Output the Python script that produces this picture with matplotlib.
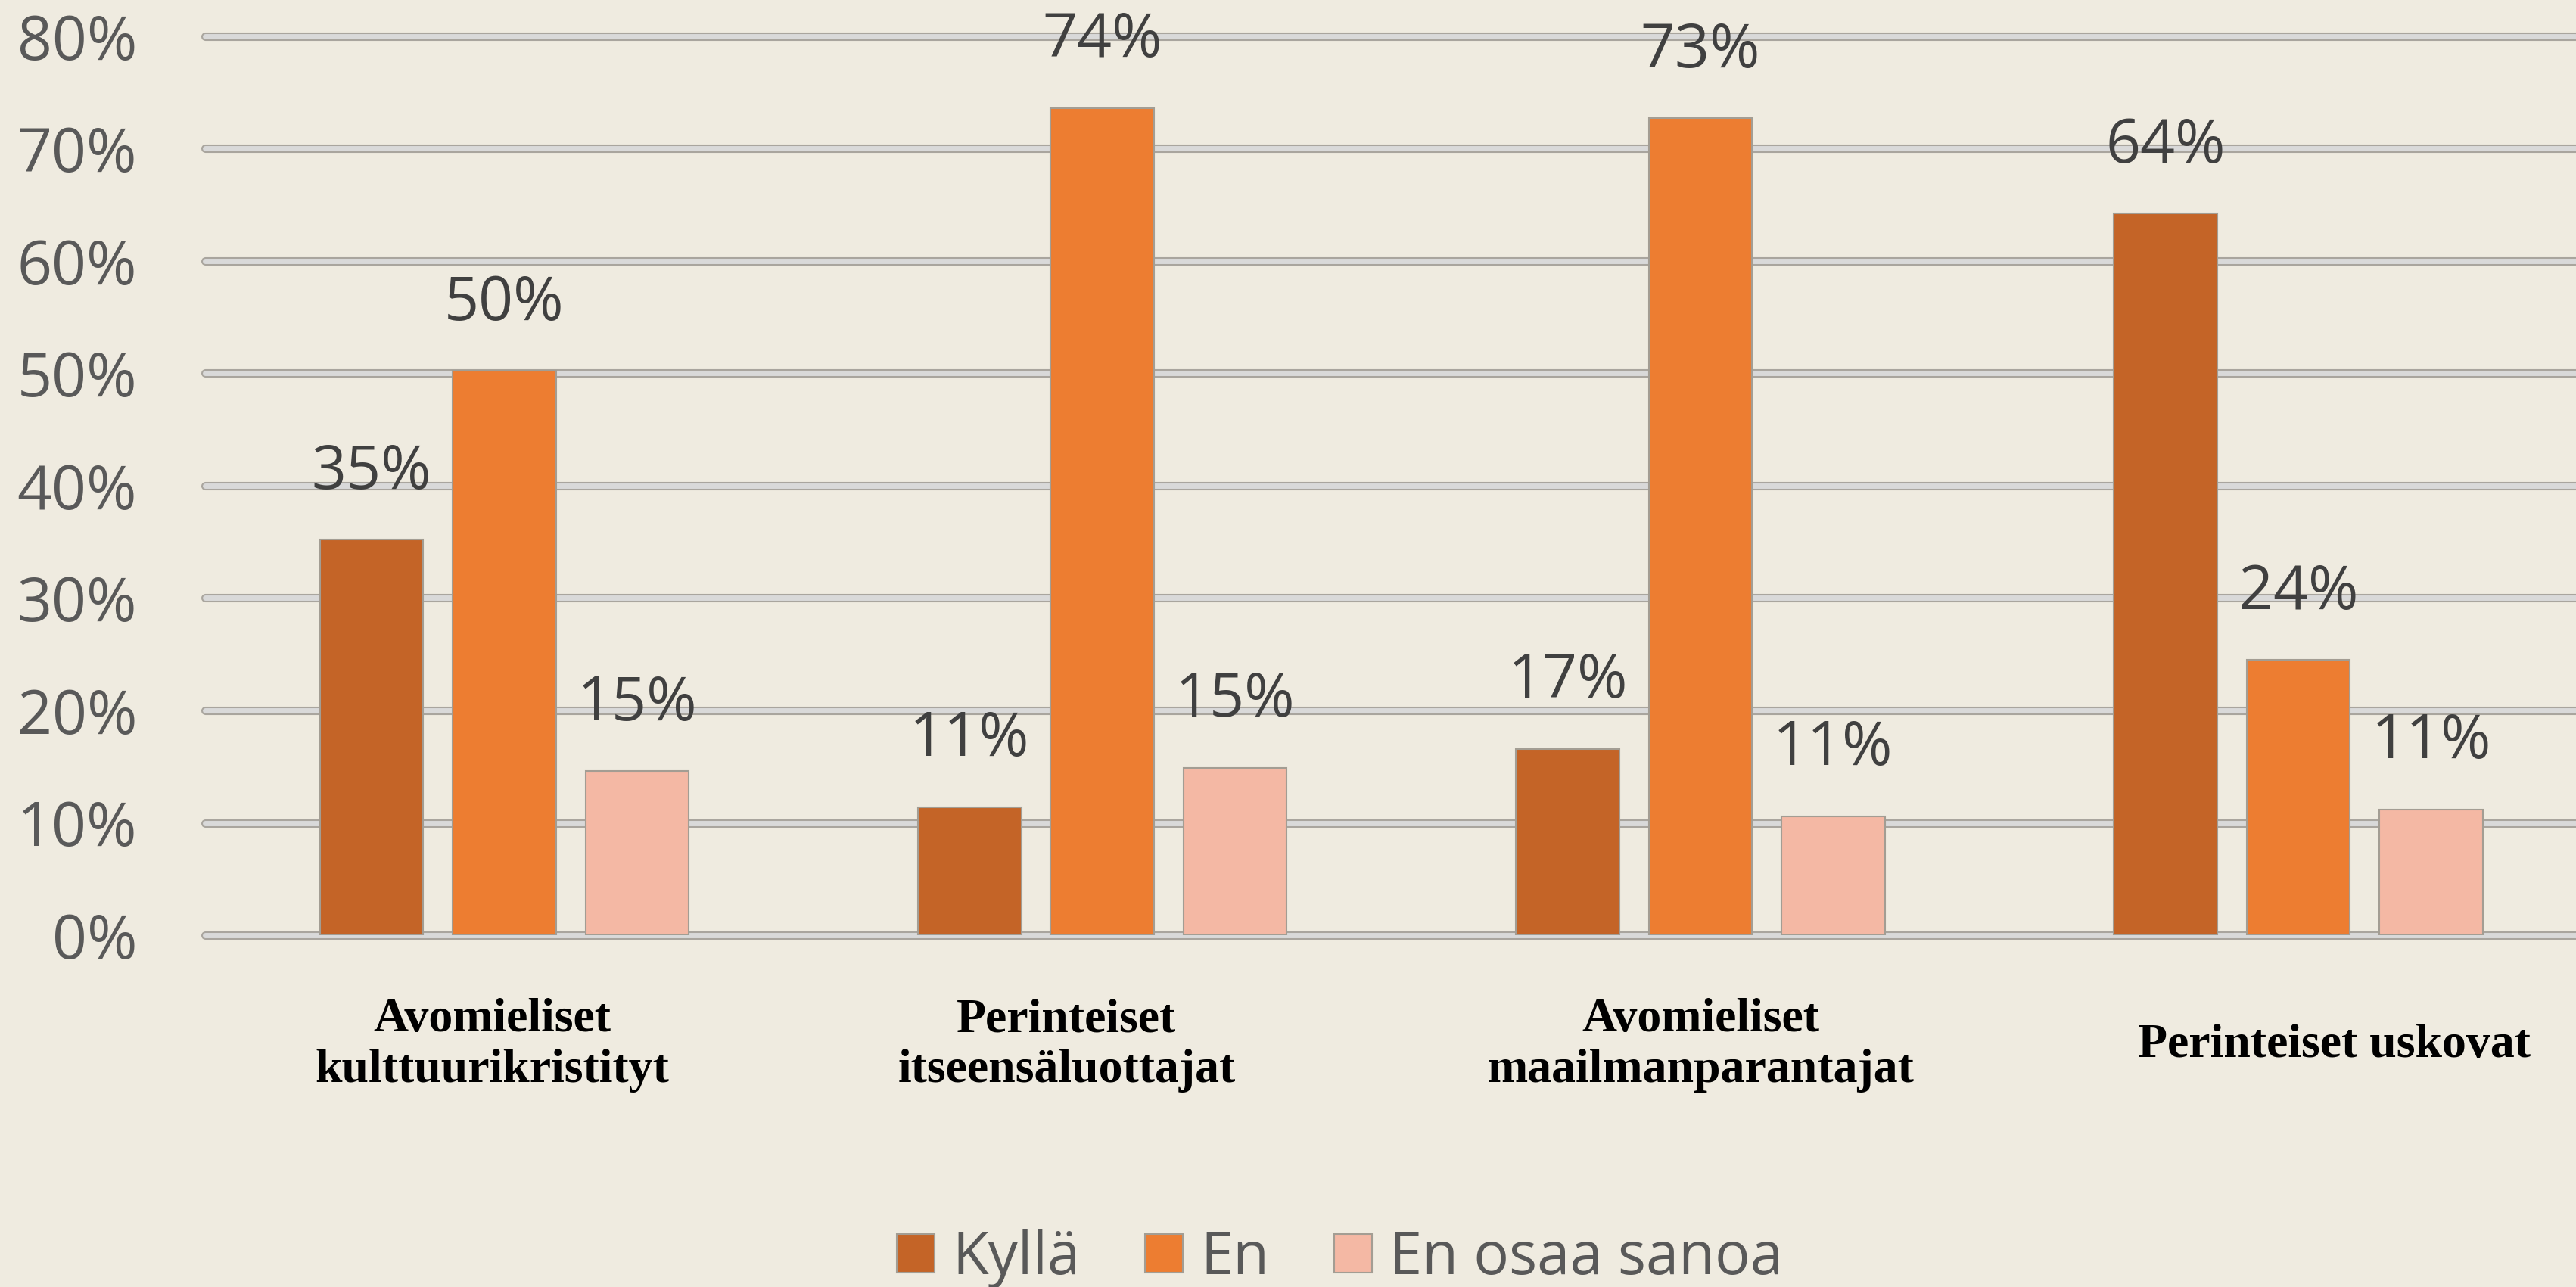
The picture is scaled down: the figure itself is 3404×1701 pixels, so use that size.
import numpy as np
import matplotlib
matplotlib.use("Agg")
import matplotlib.pyplot as plt
import matplotlib.patheffects as pe
from matplotlib.patches import Patch
from matplotlib.transforms import blended_transform_factory

# data
categories = ["Avomieliset\nkulttuurikristityt", "Perinteiset\nitseensäluottajat",
              "Avomieliset\nmaailmanparantajat", "Perinteiset uskovat"]
series_names = ["Kyllä", "En", "En osaa sanoa"]
kylla = [0.352, 0.114, 0.166, 0.642]
en = [0.502, 0.736, 0.727, 0.245]
eos = [0.146, 0.149, 0.106, 0.112]
y_ticks = [0.0, 0.1, 0.2, 0.3, 0.4, 0.5, 0.6, 0.7, 0.8]

BG = "#efebe0"
COLORS = ["#c46427", "#ed7d31", "#f4b8a4"]
SANS = ["Open Sans", "DejaVu Sans"]

fig = plt.figure(figsize=(34.05, 17.01), dpi=100, facecolor=BG)
ax = fig.add_axes([0.0797, 0.2733, 0.9283, 0.6986])
ax.set_facecolor(BG)

x = np.arange(len(categories))
offsets = [-0.222, 0.0, 0.222]
width = 0.173

# embossed-looking gridlines
for t in y_ticks:
    ax.axhline(t, color="#d9d9d9", lw=5.0, zorder=1, clip_on=False,
               solid_capstyle="round",
               path_effects=[pe.Stroke(linewidth=8.0, foreground="#a9a59e"), pe.Normal()])

for vals, off, col in zip([kylla, en, eos], offsets, COLORS):
    bars = ax.bar(x + off, vals, width, color=col, edgecolor="#a39d93", linewidth=1.5, zorder=3)
    for b, v in zip(bars, vals):
        ax.annotate(f"{round(v * 100)}%", (b.get_x() + b.get_width() / 2, v),
                    xytext=(0, 64), textcoords="offset points", ha="center", va="center",
                    fontsize=58, color="#404040", family=SANS, zorder=4)

ax.set_xlim(-0.5, 3.5)
ax.set_ylim(0, 0.8)
ax.set_yticks(y_ticks)
ax.set_yticklabels([f"{round(t * 100)}%" for t in y_ticks], fontsize=58, color="#595959", family=SANS)
ax.tick_params(axis="y", length=0, pad=65)
ax.set_xticks([])
for s in ax.spines.values():
    s.set_visible(False)

# category labels sit below the plot
label_shift = [-0.02, -0.06, 0.0, 0.06]
tr = blended_transform_factory(ax.transData, fig.transFigure)
for xi, name, sh in zip(x, categories, label_shift):
    ax.text(xi + sh, 0.1877, name, transform=tr, ha="center", va="center",
            fontsize=46, fontweight="bold", family=["Liberation Serif", "DejaVu Serif"],
            color="black", linespacing=1.2)

handles = [Patch(facecolor=c, edgecolor="#a39d93", linewidth=1.5) for c in COLORS]
leg = fig.legend(handles, series_names, loc="center", bbox_to_anchor=(0.52, 0.022), ncol=3,
                 frameon=False, prop={"family": SANS, "size": 56},
                 handlelength=0.64, handleheight=0.64, handletextpad=0.3, columnspacing=1.1)
for t in leg.get_texts():
    t.set_color("#595959")

fig.savefig("out.png", dpi=100, facecolor=BG)
